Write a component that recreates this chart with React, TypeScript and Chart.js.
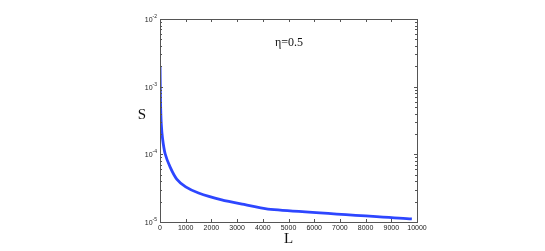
import React, { useEffect, useRef } from "react";
import { Chart, registerables } from "chart.js";

Chart.register(...registerables);

const lengths = [2, 20, 50, 100, 200, 400, 650, 1000, 1500, 2400, 3200, 4200, 9800];
const sValues = [2.0e-3, 6.0e-4, 2.8e-4, 1.7e-4, 1.02e-4, 6.4e-5, 4.3e-5, 3.3e-5, 2.68e-5, 2.12e-5, 1.83e-5, 1.55e-5, 1.11e-5];
const xTicks = [0, 1000, 2000, 3000, 4000, 5000, 6000, 7000, 8000, 9000, 10000];
const yExponents = [-5, -4, -3, -2];
const annotation = "η=0.5";
const xTitle = "L";
const yTitle = "S";

const axisPlugin = {
  id: "matlabAxes",
  afterDraw(chart: any) {
    const ctx = chart.ctx;
    const area = chart.chartArea;
    const xs = chart.scales.x;
    const ys = chart.scales.y;
    ctx.save();
    ctx.strokeStyle = "#555";
    ctx.lineWidth = 1;
    ctx.strokeRect(Math.round(area.left) + 0.5, Math.round(area.top) + 0.5, Math.round(area.right - area.left), Math.round(area.bottom - area.top));
    ctx.beginPath();
    for (const v of xTicks) {
      const px = Math.round(xs.getPixelForValue(v)) + 0.5;
      ctx.moveTo(px, area.bottom);
      ctx.lineTo(px, area.bottom - 3);
      ctx.moveTo(px, area.top);
      ctx.lineTo(px, area.top + 3);
    }
    for (let i = 0; i < yExponents.length; i++) {
      const e = yExponents[i];
      const py = Math.round(ys.getPixelForValue(Math.pow(10, e))) + 0.5;
      ctx.moveTo(area.left, py);
      ctx.lineTo(area.left + 3, py);
      ctx.moveTo(area.right, py);
      ctx.lineTo(area.right - 3, py);
      if (i < yExponents.length - 1) {
        for (let m = 2; m <= 9; m++) {
          const pm = Math.round(ys.getPixelForValue(m * Math.pow(10, e))) + 0.5;
          ctx.moveTo(area.left, pm);
          ctx.lineTo(area.left + 2, pm);
          ctx.moveTo(area.right, pm);
          ctx.lineTo(area.right - 2, pm);
        }
      }
    }
    ctx.stroke();

    ctx.fillStyle = "#222";
    ctx.font = "7px 'Liberation Sans', Arial, sans-serif";
    ctx.textAlign = "center";
    ctx.textBaseline = "top";
    for (const v of xTicks) {
      ctx.fillText(String(v), xs.getPixelForValue(v), area.bottom + 3);
    }
    for (const e of yExponents) {
      const py = ys.getPixelForValue(Math.pow(10, e));
      ctx.font = "5px 'Liberation Sans', Arial, sans-serif";
      ctx.textAlign = "right";
      ctx.textBaseline = "alphabetic";
      const expText = String(e);
      const expW = ctx.measureText(expText).width;
      ctx.fillText(expText, area.left - 3, py - 1);
      ctx.font = "7px 'Liberation Sans', Arial, sans-serif";
      ctx.fillText("10", area.left - 3 - expW, py + 3);
    }
    ctx.font = "15px 'Liberation Serif', 'Times New Roman', serif";
    ctx.textAlign = "center";
    ctx.textBaseline = "middle";
    ctx.fillStyle = "#111";
    ctx.fillText(xTitle, (area.left + area.right) / 2, area.bottom + 17);
    ctx.fillText(yTitle, area.left - 18, area.top + 96);
    ctx.font = "12px 'Liberation Serif', 'Times New Roman', serif";
    ctx.textAlign = "left";
    ctx.fillText(annotation, 275, 43);
    ctx.restore();
  },
};

export default function App() {
  const ref = useRef<HTMLCanvasElement>(null);
  useEffect(() => {
    document.body.style.margin = "0";
    const chart = new Chart(ref.current!, {
      type: "line",
      data: {
        datasets: [
          {
            data: lengths.map((l, i) => ({ x: l, y: sValues[i] })),
            borderColor: "#2d46ff",
            borderWidth: 2.8,
            pointRadius: 0,
            tension: 0.2,
            fill: false,
          },
        ],
      },
      options: {
        responsive: false,
        animation: false,
        layout: { padding: { left: 160, right: 128, top: 19, bottom: 29 } },
        plugins: { legend: { display: false }, tooltip: { enabled: false } },
        scales: {
          x: { type: "linear", min: 0, max: 10000, display: false },
          y: { type: "logarithmic", min: 1e-5, max: 1e-2, display: false },
        },
      },
      plugins: [axisPlugin],
    });
    return () => chart.destroy();
  }, []);
  return (
    <div style={{ position: "absolute", left: 0, top: 0, width: 545, height: 251, background: "#fff" }}>
      <canvas ref={ref} width={545} height={251} />
    </div>
  );
}
